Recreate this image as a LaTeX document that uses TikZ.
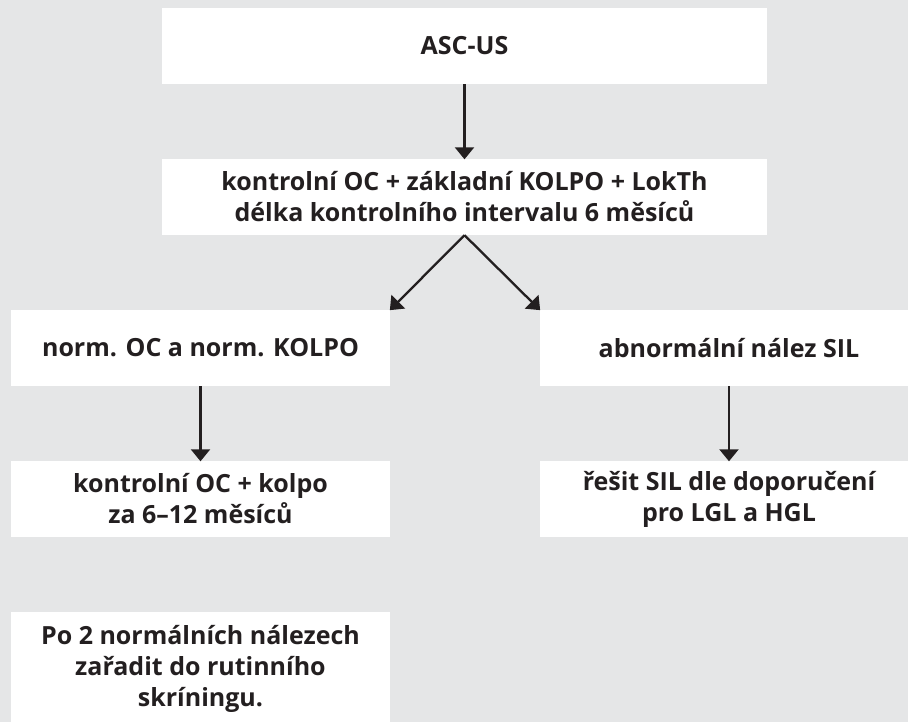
\documentclass[tikz,border=0pt]{standalone}
\usepackage{fontspec}
\setmainfont{Open Sans}
\usetikzlibrary{arrows.meta}
\definecolor{bggray}{HTML}{E5E6E7}
\definecolor{ink}{HTML}{231F20}
\begin{document}
\begin{tikzpicture}[x=1pt,y=-1pt,
  box/.style={fill=white, draw=none, inner sep=0pt, align=center,
    text=ink, font=\fontsize{25}{31}\selectfont\bfseries},
  flow/.style={draw=ink, line width=2.3pt,
    -{Triangle[length=12pt,width=19pt]}, shorten >=-0.5pt}
]
% canvas
\fill[bggray] (0,0) rectangle (908,722);
\useasboundingbox (0,0) rectangle (908,722);

% boxes (centre x, centre y, width, height in px)
\node[box, minimum width=605pt, minimum height=76pt] (start) at (464.5,46) {ASC-US};
\node[box, minimum width=605pt, minimum height=76pt] (check) at (464.5,197)
  {kontrolní OC + základní KOLPO + LokTh\\délka kontrolního intervalu 6 měsíců};
\node[box, minimum width=379pt, minimum height=76pt] (norm) at (200.5,348)
  {norm. OC a norm. KOLPO};
\node[box, minimum width=378pt, minimum height=76pt] (abn) at (729,348)
  {abnormální nález SIL};
\node[box, minimum width=379pt, minimum height=76pt] (ctrl) at (200.5,499)
  {kontrolní OC + kolpo\\za 6–12 měsíců};
\node[box, minimum width=378pt, minimum height=76pt] (sil) at (729,499)
  {řešit SIL dle doporučení\\pro LGL a HGL};
\node[box, minimum width=379pt, minimum height=114pt] (done) at (200.5,669)
  {Po 2 normálních nálezech\\zařadit do rutinního\\skríningu.};

% connectors
\draw[flow] (start.south) -- (check.north);
\draw[flow] (check.south) -- (norm.north east);
\draw[flow] (check.south) -- (abn.north west);
\draw[flow] (norm.south) -- (ctrl.north);
\draw[flow] (abn.south) -- (sil.north);
\end{tikzpicture}
\end{document}
